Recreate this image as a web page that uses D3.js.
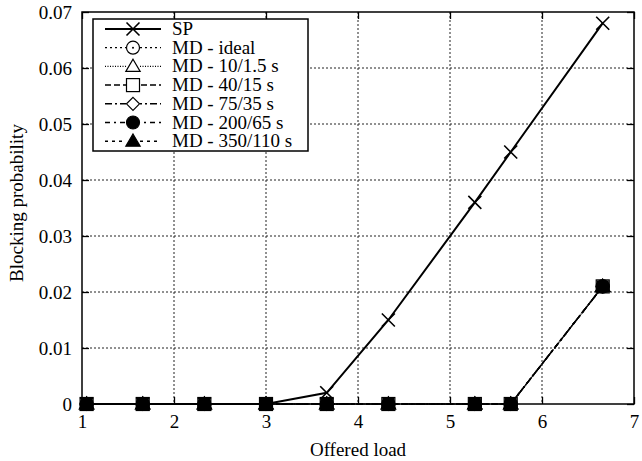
<!DOCTYPE html>
<html><head><meta charset="utf-8">
<script src="https://cdn.jsdelivr.net/npm/d3@7/dist/d3.min.js"></script>
<style>body{margin:0;background:#fff;} text{font-family:"Liberation Serif","Times New Roman",serif;fill:#000;}</style>
</head><body>
<svg id="c" width="642" height="461"></svg>
<script>
const loads = [1.05, 1.66, 2.33, 3.0, 3.66, 4.33, 5.27, 5.66, 6.66];
const spValues = [0, 0, 0, 0, 0.002, 0.015, 0.036, 0.045, 0.068];
const mdIdeal = [0, 0, 0, 0, 0, 0, 0, 0, 0.021];
const md10 = [0, 0, 0, 0, 0, 0, 0, 0, 0.021];
const md40 = [0, 0, 0, 0, 0, 0, 0, 0, 0.021];
const md75 = [0, 0, 0, 0, 0, 0, 0, 0, 0.021];
const md200 = [0, 0, 0, 0, 0, 0, 0, 0, 0.021];
const md350 = [0, 0, 0, 0, 0, 0, 0, 0, 0.021];
const seriesNames = ["SP", "MD - ideal", "MD - 10/1.5 s", "MD - 40/15 s", "MD - 75/35 s", "MD - 200/65 s", "MD - 350/110 s"];
const xTicks = [1, 2, 3, 4, 5, 6, 7];
const yTicks = [0, 0.01, 0.02, 0.03, 0.04, 0.05, 0.06, 0.07];
const xLabel = "Offered load";
const yLabel = "Blocking probability";

const styles = [
  {dash: null, width: 2, marker: "x"},
  {dash: "2,3", width: 1.3, marker: "circle"},
  {dash: "1,1.5", width: 1.3, marker: "triangle"},
  {dash: "6,3", width: 1.5, marker: "square"},
  {dash: "7,3,2,3", width: 1.5, marker: "diamond"},
  {dash: "5,4,2,4", width: 1.5, marker: "fcircle"},
  {dash: "3,4", width: 1.5, marker: "ftriangle"}
];
const allValues = [spValues, mdIdeal, md10, md40, md75, md200, md350];

const svg = d3.select("#c");
const L = 82, R = 634, T = 12, B = 404;
const x = d3.scaleLinear().domain([1, 7]).range([L, R]);
const y = d3.scaleLinear().domain([0, 0.07]).range([B, T]);

// grid
const grid = svg.append("g");
grid.selectAll("line.gx").data(xTicks.slice(1, -1)).join("line")
  .attr("x1", d => x(d)).attr("x2", d => x(d)).attr("y1", T).attr("y2", B)
  .attr("stroke", "#222").attr("stroke-width", 1).attr("stroke-dasharray", "2,2");
grid.selectAll("line.gy").data(yTicks.slice(1, -1)).join("line")
  .attr("y1", d => y(d)).attr("y2", d => y(d)).attr("x1", L).attr("x2", R)
  .attr("stroke", "#222").attr("stroke-width", 1).attr("stroke-dasharray", "2,2");

// axes
const fs = 19;
const xa = svg.append("g").attr("transform", `translate(0,${B})`)
  .call(d3.axisBottom(x).tickValues(xTicks).tickSize(-7).tickPadding(11).tickFormat(d3.format("d")));
const xaTop = svg.append("g").attr("transform", `translate(0,${T})`)
  .call(d3.axisTop(x).tickValues(xTicks).tickSize(-7).tickFormat(""));
const ya = svg.append("g").attr("transform", `translate(${L},0)`)
  .call(d3.axisLeft(y).tickValues(yTicks).tickSize(-7).tickPadding(10).tickFormat(d => d === 0 ? "0" : d3.format(".2f")(d)));
const yaR = svg.append("g").attr("transform", `translate(${R},0)`)
  .call(d3.axisRight(y).tickValues(yTicks).tickSize(-7).tickFormat(""));
[xa, xaTop, ya, yaR].forEach(g => {
  g.select(".domain").remove();
  g.selectAll(".tick line").attr("stroke", "#000").attr("stroke-width", 1.3);
  g.selectAll("text").style("font-family", '"Liberation Serif", serif').style("font-size", fs + "px").attr("fill", "#000");
});
svg.append("rect").attr("x", L).attr("y", T).attr("width", R - L).attr("height", B - T)
  .attr("fill", "none").attr("stroke", "#000").attr("stroke-width", 1.5);

svg.append("text").attr("x", 358).attr("y", 456).attr("text-anchor", "middle")
  .style("font-size", fs + "px").text(xLabel);
svg.append("text").attr("transform", `translate(23,203) rotate(-90)`).attr("text-anchor", "middle")
  .style("font-size", fs + "px").text(yLabel);

function marker(g, type, cx, cy) {
  const s = 6.5;
  if (type === "x") {
    g.append("path").attr("d", `M${cx - s},${cy - s}L${cx + s},${cy + s}M${cx - s},${cy + s}L${cx + s},${cy - s}`)
      .attr("stroke", "#000").attr("stroke-width", 1.6).attr("fill", "none");
  } else if (type === "circle" || type === "fcircle") {
    g.append("circle").attr("cx", cx).attr("cy", cy).attr("r", s)
      .attr("fill", type === "fcircle" ? "#000" : "none").attr("stroke", "#000").attr("stroke-width", 1.2);
    if (type === "circle") g.append("circle").attr("cx", cx).attr("cy", cy).attr("r", 1).attr("fill", "#000");
  } else if (type === "triangle" || type === "ftriangle") {
    const h = s * 1.1;
    g.append("path").attr("d", `M${cx},${cy - h}L${cx + h},${cy + h * 0.7}L${cx - h},${cy + h * 0.7}Z`)
      .attr("fill", type === "ftriangle" ? "#000" : "none").attr("stroke", "#000").attr("stroke-width", 1.2);
  } else if (type === "square") {
    g.append("rect").attr("x", cx - s).attr("y", cy - s).attr("width", 2 * s).attr("height", 2 * s)
      .attr("fill", "none").attr("stroke", "#000").attr("stroke-width", 1.2);
  } else if (type === "diamond") {
    g.append("path").attr("d", `M${cx},${cy - s}L${cx + s},${cy}L${cx},${cy + s}L${cx - s},${cy}Z`)
      .attr("fill", "none").attr("stroke", "#000").attr("stroke-width", 1.2);
  }
}

const line = d3.line().x((d, i) => x(loads[i])).y(d => y(d));
const plot = svg.append("g");
for (let k = allValues.length - 1; k >= 1; k--) {
  const st = styles[k];
  plot.append("path").datum(allValues[k]).attr("d", line)
    .attr("fill", "none").attr("stroke", "#000").attr("stroke-width", st.width)
    .attr("stroke-dasharray", st.dash);
}
for (let k = allValues.length - 1; k >= 1; k--) {
  allValues[k].forEach((v, i) => marker(plot, styles[k].marker, x(loads[i]), y(v)));
}
// overlapped MD markers appear as a solid square in the reference
plot.selectAll(null).data(loads).join("rect")
  .attr("x", d => x(d) - 6).attr("y", (d, i) => y(mdIdeal[i]) - 6).attr("width", 12).attr("height", 12)
  .attr("fill", "#000");
// SP on top
plot.append("path").datum(spValues).attr("d", line)
  .attr("fill", "none").attr("stroke", "#000").attr("stroke-width", styles[0].width);
spValues.forEach((v, i) => marker(plot, "x", x(loads[i]), y(v)));

// legend
const lg = svg.append("g");
lg.append("rect").attr("x", 93).attr("y", 19).attr("width", 215).attr("height", 132)
  .attr("fill", "#fff").attr("stroke", "#000").attr("stroke-width", 1.5);
seriesNames.forEach((name, i) => {
  const cy = 29 + i * 18.7;
  const st = styles[i];
  lg.append("line").attr("x1", 105).attr("x2", 161).attr("y1", cy).attr("y2", cy)
    .attr("stroke", "#000").attr("stroke-width", st.width).attr("stroke-dasharray", st.dash);
  if (st.marker !== "x") lg.append("rect").attr("x", 126).attr("y", cy - 7).attr("width", 14).attr("height", 14).attr("fill", "#fff");
  marker(lg, st.marker, 133, cy);
  lg.append("text").attr("x", 172).attr("y", cy + 6).style("font-size", fs + "px").text(name);
});
</script>
</body></html>
